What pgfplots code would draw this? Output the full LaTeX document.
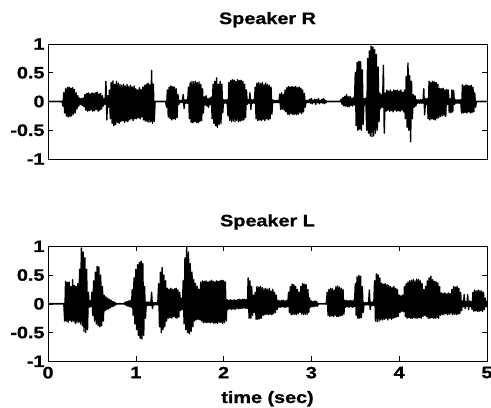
\documentclass[border=0pt]{standalone}
\usepackage{fontspec}
\usepackage{pgfplots}
\pgfplotsset{compat=1.18}
\newfontfamily\wavefont{Liberation Sans}[FakeStretch=1.2, BoldFeatures={FakeBold=1}]
\newcommand\tickfont{\wavefont\bfseries\fontsize{16.5bp}{18bp}\selectfont}
\newcommand\labfont{\wavefont\bfseries\fontsize{16.5bp}{20bp}\selectfont}
\pgfplotsset{
  wave/.style={
    scale only axis, width=439bp, height=115bp,
    xmin=0, xmax=5, ymin=-1, ymax=1,
    ytick={-1,-0.5,0,0.5,1}, yticklabels={-1,-0.5,0,0.5,1},
    xtick={0,1,2,3,4,5},
    tick align=inside, major tick length=5bp,
    every tick/.style={black, line width=0.6bp},
    tick label style={font=\tickfont},
    xticklabel style={yshift=-2bp},
    axis line style={black, line width=0.8bp},
    title style={font=\labfont, at={(axis description cs:0.5,1)}, anchor=base, yshift=14bp},
    /pgf/number format/assume math mode=true,
  },
  sig/.style={black, line width=1.4bp, line join=round, mark=none},
}
\begin{document}
\begin{tikzpicture}
\useasboundingbox (0,0) rectangle (491bp,408bp);
\begin{axis}[wave, at={(48bp,249bp)}, anchor=south west, title={Speaker R}, xtick=\empty]
\addplot[sig] table[header=false, row sep=\\, x expr=\coordindex*0.01, y index=0] {
0.006\\ -0.006\\ 0.006\\ -0.006\\ 0.006\\ -0.006\\ 0.006\\ -0.006\\ 0.006\\ -0.006\\
0.006\\ -0.006\\ 0.006\\ -0.006\\ 0.006\\ -0.006\\ 0.006\\ -0.08\\ 0.15\\ -0.2\\
0.22\\ -0.25\\ 0.24\\ -0.27\\ 0.25\\ -0.26\\ 0.23\\ -0.25\\ 0.24\\ -0.22\\
0.21\\ -0.2\\ 0.15\\ -0.13\\ 0.1\\ -0.08\\ 0.06\\ -0.05\\ 0.05\\ -0.07\\
0.06\\ -0.09\\ 0.12\\ -0.15\\ 0.14\\ -0.17\\ 0.15\\ -0.16\\ 0.13\\ -0.15\\
0.15\\ -0.17\\ 0.14\\ -0.16\\ 0.15\\ -0.14\\ 0.16\\ -0.17\\ 0.13\\ -0.15\\
0.14\\ -0.13\\ 0.1\\ -0.08\\ 0.05\\ -0.05\\ 0.35\\ -0.32\\ 0.1\\ -0.1\\
0.2\\ -0.3\\ 0.33\\ -0.38\\ 0.36\\ -0.42\\ 0.3\\ -0.4\\ 0.35\\ -0.36\\
0.32\\ -0.38\\ 0.3\\ -0.35\\ 0.28\\ -0.33\\ 0.3\\ -0.36\\ 0.27\\ -0.34\\
0.3\\ -0.35\\ 0.26\\ -0.32\\ 0.28\\ -0.3\\ 0.25\\ -0.33\\ 0.27\\ -0.3\\
0.22\\ -0.3\\ 0.2\\ -0.28\\ 0.24\\ -0.3\\ 0.21\\ -0.27\\ 0.25\\ -0.32\\
0.28\\ -0.34\\ 0.3\\ -0.35\\ 0.32\\ -0.36\\ 0.29\\ -0.35\\ 0.54\\ -0.38\\
0.3\\ -0.35\\ 0.006\\ -0.006\\ 0.006\\ -0.006\\ 0.006\\ -0.006\\ 0.006\\ -0.006\\
0.006\\ -0.006\\ 0.006\\ -0.006\\ 0.006\\ -0.1\\ 0.2\\ -0.27\\ 0.25\\ -0.3\\
0.27\\ -0.32\\ 0.26\\ -0.3\\ 0.25\\ -0.31\\ 0.22\\ -0.28\\ 0.12\\ -0.05\\
0.02\\ -0.02\\ 0.02\\ -0.02\\ 0.12\\ -0.12\\ 0.03\\ -0.03\\ 0.03\\ -0.03\\
0.25\\ -0.3\\ 0.33\\ -0.36\\ 0.35\\ -0.37\\ 0.34\\ -0.35\\ 0.35\\ -0.36\\
0.33\\ -0.37\\ 0.34\\ -0.35\\ 0.3\\ -0.33\\ 0.22\\ -0.2\\ 0.08\\ -0.06\\
0.1\\ -0.08\\ 0.05\\ -0.1\\ 0.06\\ -0.05\\ 0.08\\ -0.3\\ 0.3\\ -0.38\\
0.35\\ -0.42\\ 0.41\\ -0.45\\ 0.3\\ -0.4\\ 0.35\\ -0.38\\ 0.3\\ -0.2\\
0.03\\ -0.03\\ 0.03\\ -0.03\\ 0.03\\ -0.25\\ 0.33\\ -0.33\\ 0.36\\ -0.35\\
0.38\\ -0.34\\ 0.37\\ -0.35\\ 0.35\\ -0.33\\ 0.38\\ -0.35\\ 0.36\\ -0.34\\
0.37\\ -0.33\\ 0.35\\ -0.32\\ 0.3\\ -0.28\\ 0.2\\ -0.05\\ 0.03\\ -0.03\\
0.15\\ -0.14\\ 0.03\\ -0.03\\ 0.03\\ -0.03\\ 0.25\\ -0.3\\ 0.32\\ -0.33\\
0.33\\ -0.32\\ 0.31\\ -0.33\\ 0.33\\ -0.31\\ 0.3\\ -0.33\\ 0.32\\ -0.3\\
0.3\\ -0.32\\ 0.28\\ -0.3\\ 0.25\\ -0.22\\ 0.03\\ -0.02\\ 0.02\\ -0.02\\
0.02\\ -0.02\\ 0.02\\ -0.02\\ 0.13\\ -0.14\\ 0.15\\ -0.13\\ 0.12\\ -0.15\\
0.2\\ -0.18\\ 0.24\\ -0.22\\ 0.26\\ -0.23\\ 0.25\\ -0.21\\ 0.26\\ -0.23\\
0.25\\ -0.22\\ 0.26\\ -0.23\\ 0.24\\ -0.22\\ 0.25\\ -0.2\\ 0.23\\ -0.21\\
0.2\\ -0.18\\ 0.14\\ -0.1\\ 0.02\\ -0.02\\ 0.02\\ -0.02\\ 0.04\\ -0.03\\
0.05\\ -0.04\\ 0.02\\ -0.02\\ 0.04\\ -0.05\\ 0.03\\ -0.02\\ 0.05\\ -0.04\\
0.02\\ -0.02\\ 0.04\\ -0.03\\ 0.05\\ -0.04\\ 0.02\\ -0.02\\ 0.006\\ -0.006\\
0.006\\ -0.006\\ 0.006\\ -0.006\\ 0.006\\ -0.006\\ 0.006\\ -0.006\\ 0.006\\ -0.006\\
0.006\\ -0.006\\ 0.006\\ -0.006\\ 0.04\\ -0.05\\ 0.07\\ -0.08\\ 0.09\\ -0.08\\
0.12\\ -0.09\\ 0.08\\ -0.09\\ 0.09\\ -0.07\\ 0.06\\ -0.08\\ 0.07\\ -0.06\\
0.5\\ -0.42\\ 0.68\\ -0.5\\ 0.7\\ -0.48\\ 0.69\\ -0.5\\ 0.55\\ -0.4\\
0.05\\ -0.05\\ 0.06\\ -0.5\\ 0.75\\ -0.55\\ 0.88\\ -0.6\\ 0.96\\ -0.61\\
0.95\\ -0.6\\ 0.9\\ -0.55\\ 0.82\\ -0.5\\ 0.6\\ -0.35\\ 0.15\\ -0.12\\
0.12\\ -0.1\\ 0.63\\ -0.55\\ 0.15\\ -0.17\\ 0.2\\ -0.15\\ 0.18\\ -0.17\\
0.2\\ -0.16\\ 0.17\\ -0.18\\ 0.2\\ -0.15\\ 0.19\\ -0.17\\ 0.2\\ -0.16\\
0.18\\ -0.17\\ 0.2\\ -0.15\\ 0.16\\ -0.18\\ 0.2\\ -0.3\\ 0.44\\ -0.45\\
0.67\\ -0.5\\ 0.45\\ -0.7\\ 0.35\\ -0.3\\ 0.12\\ -0.1\\ 0.1\\ -0.08\\
0.03\\ -0.03\\ 0.03\\ -0.03\\ 0.03\\ -0.03\\ 0.03\\ -0.03\\ 0.22\\ -0.23\\
0.05\\ -0.05\\ 0.05\\ -0.3\\ 0.35\\ -0.32\\ 0.33\\ -0.3\\ 0.35\\ -0.31\\
0.34\\ -0.32\\ 0.33\\ -0.3\\ 0.3\\ -0.28\\ 0.23\\ -0.26\\ 0.22\\ -0.25\\
0.23\\ -0.24\\ 0.2\\ -0.26\\ 0.21\\ -0.05\\ 0.2\\ -0.19\\ 0.05\\ -0.2\\
0.2\\ -0.18\\ 0.19\\ -0.05\\ 0.03\\ -0.03\\ 0.03\\ -0.03\\ 0.03\\ -0.03\\
0.03\\ -0.2\\ 0.29\\ -0.2\\ 0.27\\ -0.19\\ 0.29\\ -0.2\\ 0.28\\ -0.18\\
0.27\\ -0.2\\ 0.28\\ -0.19\\ 0.25\\ -0.18\\ 0.15\\ -0.1\\ 0.006\\ -0.006\\
0.006\\ -0.006\\ 0.006\\ -0.006\\ 0.006\\ -0.006\\ 0.006\\ -0.006\\ 0.006\\ -0.006\\
0.006\\
};
\end{axis}
\begin{axis}[wave, at={(48bp,46.7bp)}, anchor=south west, title={Speaker L},
  xticklabels={0,1,2,3,4,5}, xlabel={time (sec)},
  xlabel style={font=\labfont, at={(axis description cs:0.5,0)}, anchor=base, yshift=-41.7bp}]
\addplot[sig] table[header=false, row sep=\\, x expr=\coordindex*0.01, y index=0] {
0.006\\ -0.006\\ 0.006\\ -0.006\\ 0.006\\ -0.006\\ 0.006\\ -0.006\\ 0.006\\ -0.006\\
0.006\\ -0.006\\ 0.006\\ -0.006\\ 0.006\\ -0.006\\ 0.006\\ -0.006\\ 0.006\\ -0.3\\
0.39\\ -0.3\\ 0.37\\ -0.32\\ 0.38\\ -0.29\\ 0.3\\ -0.31\\ 0.42\\ -0.3\\
0.32\\ -0.34\\ 0.3\\ -0.33\\ 0.35\\ -0.32\\ 0.6\\ -0.35\\ 0.97\\ -0.38\\
0.9\\ -0.48\\ 0.8\\ -0.5\\ 0.6\\ -0.45\\ 0.2\\ -0.06\\ 0.05\\ -0.05\\
0.2\\ -0.2\\ 0.4\\ -0.3\\ 0.55\\ -0.35\\ 0.65\\ -0.38\\ 0.64\\ -0.4\\
0.5\\ -0.38\\ 0.3\\ -0.3\\ 0.15\\ -0.12\\ 0.12\\ -0.1\\ 0.1\\ -0.09\\
0.08\\ -0.07\\ 0.06\\ -0.05\\ 0.04\\ -0.04\\ 0.03\\ -0.02\\ 0.006\\ -0.006\\
0.006\\ -0.006\\ 0.006\\ -0.006\\ 0.006\\ -0.006\\ 0.006\\ -0.006\\ 0.03\\ -0.03\\
0.04\\ -0.04\\ 0.05\\ -0.05\\ 0.06\\ -0.06\\ 0.25\\ -0.2\\ 0.45\\ -0.35\\
0.6\\ -0.45\\ 0.68\\ -0.55\\ 0.72\\ -0.6\\ 0.74\\ -0.61\\ 0.7\\ -0.55\\
0.3\\ -0.25\\ 0.03\\ -0.03\\ 0.03\\ -0.03\\ 0.03\\ -0.03\\ 0.2\\ -0.08\\
0.02\\ -0.02\\ 0.02\\ -0.02\\ 0.02\\ -0.02\\ 0.35\\ -0.4\\ 0.55\\ -0.5\\
0.63\\ -0.45\\ 0.5\\ -0.4\\ 0.4\\ -0.3\\ 0.27\\ -0.25\\ 0.25\\ -0.24\\
0.27\\ -0.25\\ 0.25\\ -0.22\\ 0.26\\ -0.24\\ 0.27\\ -0.25\\ 0.24\\ -0.23\\
0.2\\ -0.12\\ 0.1\\ -0.1\\ 0.4\\ -0.35\\ 0.8\\ -0.45\\ 0.99\\ -0.5\\
0.9\\ -0.52\\ 0.7\\ -0.48\\ 0.55\\ -0.4\\ 0.42\\ -0.3\\ 0.35\\ -0.28\\
0.3\\ -0.27\\ 0.25\\ -0.28\\ 0.38\\ -0.3\\ 0.4\\ -0.33\\ 0.39\\ -0.32\\
0.4\\ -0.33\\ 0.38\\ -0.32\\ 0.39\\ -0.33\\ 0.41\\ -0.32\\ 0.39\\ -0.34\\
0.38\\ -0.33\\ 0.4\\ -0.34\\ 0.39\\ -0.32\\ 0.4\\ -0.33\\ 0.41\\ -0.34\\
0.4\\ -0.33\\ 0.38\\ -0.3\\ 0.07\\ -0.1\\ 0.06\\ -0.09\\ 0.07\\ -0.1\\
0.06\\ -0.09\\ 0.07\\ -0.1\\ 0.06\\ -0.08\\ 0.07\\ -0.09\\ 0.08\\ -0.08\\
0.07\\ -0.08\\ 0.08\\ -0.07\\ 0.08\\ -0.08\\ 0.07\\ -0.08\\ 0.45\\ -0.25\\
0.4\\ -0.25\\ 0.3\\ -0.2\\ 0.15\\ -0.15\\ 0.2\\ -0.27\\ 0.3\\ -0.27\\
0.29\\ -0.26\\ 0.3\\ -0.25\\ 0.28\\ -0.2\\ 0.26\\ -0.19\\ 0.27\\ -0.18\\
0.25\\ -0.19\\ 0.27\\ -0.18\\ 0.22\\ -0.19\\ 0.25\\ -0.17\\ 0.2\\ -0.15\\
0.15\\ -0.1\\ 0.06\\ -0.06\\ 0.05\\ -0.06\\ 0.06\\ -0.05\\ 0.06\\ -0.06\\
0.05\\ -0.06\\ 0.06\\ -0.05\\ 0.2\\ -0.15\\ 0.3\\ -0.19\\ 0.34\\ -0.19\\
0.33\\ -0.18\\ 0.3\\ -0.19\\ 0.25\\ -0.17\\ 0.2\\ -0.15\\ 0.3\\ -0.18\\
0.35\\ -0.19\\ 0.34\\ -0.18\\ 0.33\\ -0.19\\ 0.25\\ -0.15\\ 0.1\\ -0.06\\
0.05\\ -0.05\\ 0.04\\ -0.05\\ 0.05\\ -0.04\\ 0.04\\ -0.04\\ 0.006\\ -0.006\\
0.006\\ -0.006\\ 0.006\\ -0.006\\ 0.006\\ -0.006\\ 0.006\\ -0.006\\ 0.2\\ -0.2\\
0.25\\ -0.22\\ 0.27\\ -0.21\\ 0.26\\ -0.22\\ 0.24\\ -0.2\\ 0.3\\ -0.22\\
0.31\\ -0.22\\ 0.29\\ -0.21\\ 0.27\\ -0.2\\ 0.25\\ -0.18\\ 0.06\\ -0.06\\
0.06\\ -0.05\\ 0.05\\ -0.06\\ 0.06\\ -0.05\\ 0.05\\ -0.06\\ 0.06\\ -0.05\\
0.35\\ -0.2\\ 0.47\\ -0.25\\ 0.49\\ -0.25\\ 0.48\\ -0.24\\ 0.3\\ -0.15\\
0.02\\ -0.02\\ 0.02\\ -0.02\\ 0.02\\ -0.02\\ 0.24\\ -0.1\\ 0.03\\ -0.03\\
0.03\\ -0.03\\ 0.4\\ -0.3\\ 0.52\\ -0.31\\ 0.5\\ -0.3\\ 0.45\\ -0.28\\
0.36\\ -0.28\\ 0.34\\ -0.27\\ 0.35\\ -0.26\\ 0.33\\ -0.28\\ 0.32\\ -0.25\\
0.3\\ -0.27\\ 0.28\\ -0.25\\ 0.3\\ -0.24\\ 0.27\\ -0.23\\ 0.25\\ -0.22\\
0.15\\ -0.15\\ 0.14\\ -0.13\\ 0.15\\ -0.14\\ 0.3\\ -0.22\\ 0.35\\ -0.25\\
0.38\\ -0.24\\ 0.4\\ -0.25\\ 0.41\\ -0.25\\ 0.42\\ -0.24\\ 0.4\\ -0.25\\
0.43\\ -0.25\\ 0.42\\ -0.24\\ 0.4\\ -0.25\\ 0.35\\ -0.22\\ 0.25\\ -0.2\\
0.3\\ -0.22\\ 0.4\\ -0.25\\ 0.45\\ -0.25\\ 0.48\\ -0.24\\ 0.42\\ -0.25\\
0.39\\ -0.25\\ 0.38\\ -0.24\\ 0.36\\ -0.25\\ 0.3\\ -0.2\\ 0.19\\ -0.19\\
0.18\\ -0.19\\ 0.19\\ -0.17\\ 0.17\\ -0.19\\ 0.19\\ -0.18\\ 0.18\\ -0.17\\
0.25\\ -0.19\\ 0.3\\ -0.18\\ 0.29\\ -0.19\\ 0.3\\ -0.18\\ 0.27\\ -0.17\\
0.2\\ -0.12\\ 0.05\\ -0.05\\ 0.16\\ -0.08\\ 0.04\\ -0.05\\ 0.16\\ -0.1\\
0.05\\ -0.05\\ 0.04\\ -0.1\\ 0.2\\ -0.13\\ 0.24\\ -0.12\\ 0.22\\ -0.13\\
0.24\\ -0.13\\ 0.23\\ -0.12\\ 0.22\\ -0.13\\ 0.2\\ -0.1\\ 0.1\\ -0.05\\
0.05\\
};
\end{axis}
\end{tikzpicture}
\end{document}
